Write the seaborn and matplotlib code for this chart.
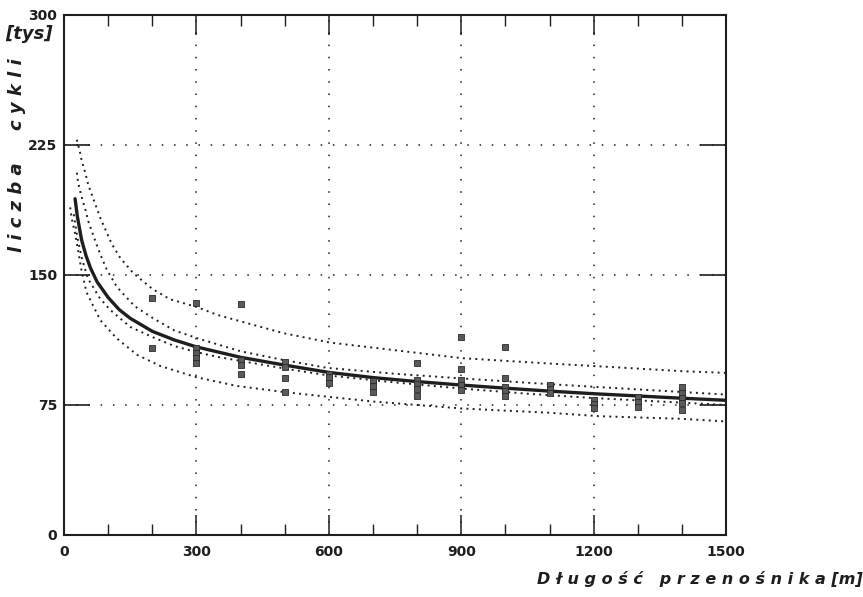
import numpy as np
import pandas as pd
import seaborn as sns
import matplotlib.pyplot as plt
from matplotlib.ticker import MultipleLocator, FixedLocator

sns.set_theme(style="white")
plt.rcParams['font.family'] = ['DejaVu Sans']

# fitted regression curve (cycles in thousands vs conveyor length in m)
fit_x = [25, 30, 40, 50, 60, 75, 100, 125, 150, 200, 250, 300, 400, 500, 600, 700, 800, 900, 1000, 1100, 1200, 1300, 1400, 1500]
fit_y = [194, 184, 170, 161, 154, 146, 137, 130, 125, 117.5, 112.5, 108.5, 102.5, 98, 93.8, 90.8, 88.5, 86.5, 84.7, 83, 81.5, 80.2, 78.9, 77.7]

# confidence band
conf_up_x = [29, 32, 40, 48, 55, 66, 82, 97, 120, 160, 202, 250, 308, 400, 496, 596, 750, 902, 1100, 1300, 1500]
conf_up_y = [209, 203, 195, 188, 181, 173, 162, 153, 143, 132, 125, 118, 113, 106, 101, 96.4, 93, 90.3, 87, 84, 81]
conf_lo_x = [22, 30, 40, 54, 80, 104, 150, 202, 250, 300, 353, 500, 600, 750, 900, 1050, 1200, 1350, 1500]
conf_lo_y = [185, 172, 160, 148, 137, 130, 120, 114, 109, 105.5, 102.5, 96, 92, 88, 84.5, 81.5, 79, 77, 75]

# prediction band
pred_up_x = [29, 36, 40, 48, 55, 82, 108, 127, 157, 200, 240, 301, 347, 496, 603, 746, 902, 1094, 1199, 1300, 1400, 1500]
pred_up_y = [228, 221, 216, 209, 202, 183, 168, 160, 151, 142, 136, 131.5, 127, 116.5, 111, 106.7, 102, 99, 97.5, 96, 94.5, 93.5]
pred_lo_x = [14, 17, 25, 32, 40, 51, 82, 119, 165, 218, 300, 391, 497, 603, 700, 900, 1100, 1215, 1400, 1500]
pred_lo_y = [189, 183, 174, 164, 152, 140, 124, 113.5, 104, 97.5, 91, 86, 82.5, 79.6, 77, 73, 70.5, 68.5, 67, 65.5]

# measured points
obs_x = [200, 200,
         300, 300, 300, 300, 300,
         400, 400, 400, 400,
         500, 500, 500, 500,
         600, 600, 600,
         700, 700, 700,
         800, 800, 800, 800, 800,
         900, 900, 900, 900, 900,
         1000, 1000, 1000, 1000, 1000,
         1100, 1100, 1100,
         1200, 1200, 1200,
         1300, 1300, 1300,
         1400, 1400, 1400, 1400, 1400]
obs_y = [137, 108,
         134, 108, 105, 102, 99,
         133, 101, 98, 93,
         100, 97, 90.6, 82.7,
         93, 91, 87.7,
         89, 86, 82.5,
         99, 89.5, 87, 84, 80,
         114, 96, 89.5, 86.5, 83.7,
         108.6, 90.6, 85.5, 83, 80,
         86.5, 84, 82,
         78, 75.5, 73,
         79.6, 77, 74,
         85.5, 82, 79, 76, 72]

x_ticks = [0, 300, 600, 900, 1200, 1500]
y_ticks = [0, 75, 150, 225, 300]

fig = plt.figure(figsize=(8.63, 5.97), dpi=100)
ax = fig.add_axes([0.0742, 0.1039, 0.7671, 0.8710])

ink = '#1e1e1e'

# dotted grid
for gx in x_ticks[1:-1]:
    ax.axvline(gx, color=ink, lw=1.1, ls=(0, (1, 7)), zorder=1)
for gy in y_ticks[1:-1]:
    ax.axhline(gy, color=ink, lw=1.1, ls=(0, (1, 7)), zorder=1)

band_style = dict(color=ink, lw=1.4, ls=(0, (1, 2.2)), zorder=3)
sns.lineplot(x=pred_up_x, y=pred_up_y, ax=ax, **band_style)
sns.lineplot(x=pred_lo_x, y=pred_lo_y, ax=ax, **band_style)
sns.lineplot(x=conf_up_x, y=conf_up_y, ax=ax, **band_style)
sns.lineplot(x=conf_lo_x, y=conf_lo_y, ax=ax, **band_style)
sns.lineplot(x=fit_x, y=fit_y, ax=ax, color=ink, lw=2.4, zorder=4)

sns.scatterplot(x=obs_x, y=obs_y, ax=ax, marker='s', s=24, color='#5a5a5a',
                edgecolor='#2a2a2a', linewidth=0.6, zorder=5)

ax.set_xlim(0, 1500)
ax.set_ylim(0, 300)

ax.xaxis.set_major_locator(FixedLocator(x_ticks))
ax.xaxis.set_minor_locator(MultipleLocator(100))
ax.yaxis.set_major_locator(FixedLocator(y_ticks))
ax.set_xticklabels([str(v) for v in x_ticks], fontsize=10, fontweight='bold', color=ink)
ax.set_yticklabels([str(v) for v in y_ticks], fontsize=10, fontweight='bold', color=ink)
ax.tick_params(axis='x', which='major', direction='in', length=14.5, width=1.1,
               top=True, bottom=True, color=ink, pad=7)
ax.tick_params(axis='x', which='minor', direction='in', length=8, width=1.0,
               top=True, bottom=True, color=ink)
ax.tick_params(axis='y', which='major', direction='in', length=19, width=1.2,
               left=True, right=True, color=ink, pad=5)

for sp in ax.spines.values():
    sp.set_color(ink)
    sp.set_linewidth(1.5)

ax.set_xlabel('')
ax.set_ylabel('')

# axis titles
title_style = dict(fontstyle='italic', fontweight='bold', color=ink)
fig.text(0.020, 1 - 207 / 597, 'l i c z b a', rotation=90, fontsize=13,
         ha='center', va='center', **title_style)
fig.text(0.020, 1 - 94 / 597, 'c y k l i', rotation=90, fontsize=13,
         ha='center', va='center', **title_style)
fig.text(0.034, 1 - 34 / 597, '[tys]', fontsize=13,
         ha='center', va='center', **title_style)
fig.text(0.811, 0.030, 'D ł u g o ś ć   p r z e n o ś n i k a [m]', fontsize=11.5,
         ha='center', va='center', **title_style)

fig.savefig('out.png', dpi=100, facecolor='white')
